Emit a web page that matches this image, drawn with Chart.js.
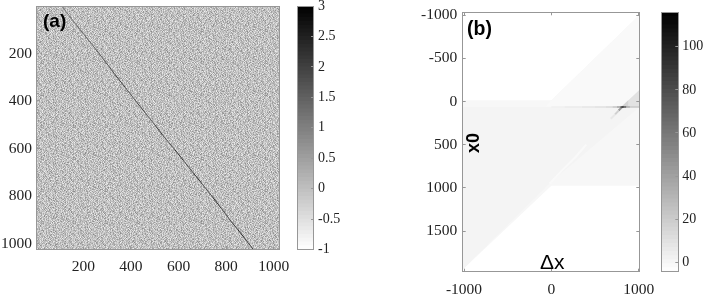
<!DOCTYPE html>
<html>
<head>
<meta charset="utf-8">
<style>
  html, body { margin: 0; padding: 0; background: #fff; }
  #wrap { position: relative; width: 706px; height: 295px; overflow: hidden; }
  canvas { position: absolute; left: 0; top: 0; }
  .lbl { position: absolute; font-family: "Liberation Sans", sans-serif; font-weight: bold; color: #000; white-space: nowrap; line-height: 1; }
</style>
<script src="https://cdn.jsdelivr.net/npm/chart.js@4"></script>
</head>
<body>
<div id="wrap">
  <canvas id="a" width="706" height="295"></canvas>
  <canvas id="aBar" width="706" height="295"></canvas>
  <canvas id="b" width="706" height="295"></canvas>
  <canvas id="bBar" width="706" height="295"></canvas>
  <div class="lbl" style="left:43px;top:11px;font-size:19px">(a)</div>
  <div class="lbl" style="left:467px;top:19px;font-size:19.5px">(b)</div>
  <div class="lbl" style="left:464px;top:133px;font-size:18px;transform-origin:0 0;transform:rotate(-90deg) translate(-20px,0)">x0</div>
  <div class="lbl" style="left:540px;top:251px;font-size:21px;font-weight:normal">Δx</div>
</div>

<script>
// ---- panel (a) ----
const aXTicks = [200, 400, 600, 800, 1000];
const aYTicks = [200, 400, 600, 800, 1000];
const matrixX = [0.5, 1024.5, 1024.5, 0.5];
const matrixY = [0.5, 0.5, 1024.5, 1024.5];
// dark ridge
const ridgeX = [108, 170, 250, 290, 330, 375, 420, 460, 500, 540, 583, 620, 660, 700, 740, 780, 820, 850, 880, 914];
const ridgeY = [0, 80, 180, 232, 285, 342, 400, 450, 500, 552, 603, 650, 700, 750, 800, 852, 905, 942, 980, 1024];
const ridgeGrey = ["#777", "#666", "#585858", "#505050", "#3c3c3c", "#585858", "#404040", "#5c5c5c", "#3c3c3c", "#505050", "#2e2e2e", "#4c4c4c", "#323232", "#505050", "#2e2e2e", "#484848", "#3c3c3c", "#2a2a2a", "#404040"];

// speckle of panel (a): the single pixels can't be read one by one, so this is
// a hand typed tile (one hex digit = grey level) used as the fill of the matrix
const speckleTile = [
  "8b3e96a1d7c4f20b95e8a6c17d39b4ea",
  "c5a82fd94b7e1a6c83d5b09fe724a8c6",
  "9e17c6b38af25d94c7e1a86b3fd5920c",
  "4da9e2708cb6f31e95a7d4c82be6190f",
  "b7136fc8d2a95e07b4c9f6318ad2e75b",
  "a2e8d45b1c97f6a3e08d7b25c4f9163d",
  "6fc094a7e3b1d852c6a9f7e403bd8c12",
  "d38b7e2f96c5a41d8e07b3f9a62c5e94",
  "19f5c6ad04e8b72a9d3c6e1b84f7a05d",
  "e7a3b829d6f1c054ba8e297d3c6f914b",
  "5c91e4f7a3086bdc2f95a1e7d48c3b60",
  "b06d82c5e9a7f13d4c8b06e9a25f7d1c",
  "8ae3f17b4d92c6a05e7d3f8c1b94a6e2",
  "2c75a9d06bf38e14c9a7d25e8f06b3c9",
  "f49e6c1a85d7b023e6c4f9a17d8b25ea",
  "a7d3085eb2c96f4a1d87e3b5096cf2d4",
  "3be1c794fa06d8259ebc714ad6f3802e",
  "d6082ea5c3b97f14a6ed30f8b9c5271a",
  "91fc4b7d6e25a83c07f9d1b6e4a28c5f",
  "c47ae09318fdb65c2a94e7d03b8f6a19",
  "6b29d5f8a4c071ebd63f8a25c9e4107d",
  "ea81c36d09b5f72e4d9a1c68f03b7d5a",
  "07f4b9e2d7a1368cf5be2907d4a6c1e3",
  "b5c2768a1fe49d03a7c85bf16e29d48a",
  "4ed90c3b75a8e16f24d9c7083fa5be16",
  "a816f5d2b9c47e0a3fb6d1e95c0782d4",
  "7c3be604a1f8d95267ce0b4f8a13d96e",
  "d2945af78e30c1b6ed487a9f25bc6013",
  "1ea76c2d59f4b083ca96e17d3f4825bc",
  "f8053db9a6c27e41b6f8d3059ec7a142",
  "39cb8e14f07da562e1a9c46b7d0f38e5",
  "ad6274e8b5193fc0796ab2d8e5f4103c"
];
const aBarTicks = [-1, -0.5, 0, 0.5, 1, 1.5, 2, 2.5, 3];
const aBarMin = -1, aBarMax = 3;

// ---- panel (b) ----
const bXTicks = [-1000, 0, 1000];
const bYTicks = [-1000, -500, 0, 500, 1000, 1500];
const envelopeX = [-1020, 0, 1010, 1010, 0, -1020];
const envelopeY = [-15, -15, -1005, 975, 975, 1950];
const leftFanX = [-1020, 0, 720, 1010, 0, -1020];
const leftFanY = [65, 65, 65, 65, 930, 1950];
const upperBandX = [-60, 0, 1010, 1010, 700];
const upperBandY = [60, -15, -1005, 60, 60];
const wedgeX = [800, 1010, 1010];
const wedgeY = [65, -135, 65];
const wedgeCoreX = [800, 880, 880];
const wedgeCoreY = [65, -15, 65];
const whiteStreakX = [-20, 120, 280, 400];
const whiteStreakY = [950, 800, 640, 500];
const sliceX = [0, 150, 350, 500, 620, 700, 750, 790, 810, 830, 860, 900, 1010];
const sliceY = [65, 65, 65, 65, 65, 65, 65, 65, 65, 65, 65, 65, 65];
const sliceGrey = ["#f0f0f0", "#ebebeb", "#e6e6e6", "#e0e0e0", "#d8d8d8", "#c4c4c4", "#a0a0a0", "#444", "#111", "#555", "#aaa", "#c8c8c8"];
const tailX = [810, 770, 730, 680];
const tailY = [65, 105, 150, 200];
const tailGrey = ["#999", "#d0d0d0", "#e8e8e8"];
const bBarTicks = [0, 20, 40, 60, 80, 100];
const bBarMin = -4.4, bBarMax = 116;

const tickFont = { family: "'Liberation Serif', serif", size: 15.5 };
const barFont = { family: "'Liberation Serif', serif", size: 14 };
const frameGrey = "#979797";
// room kept for the tick labels of an axis (the labels are clipped to the axis box)
const roomLeftA = 36, roomLeftB = 46, roomRight = 36, roomBottom = 28;

function pts(xs, ys) {
  return xs.map(function (x, i) { return { x: x, y: ys[i] }; });
}

// filled polygon in data coordinates
function shape(xs, ys, color) {
  return { data: pts(xs, ys), showLine: true, fill: "shape", backgroundColor: color, borderWidth: 0, pointRadius: 0 };
}

// polyline with one colour per segment
function streak(xs, ys, greys, width) {
  return {
    data: pts(xs, ys), showLine: true, fill: false, borderWidth: width, pointRadius: 0,
    segment: { borderColor: function (ctx) { return greys[ctx.p0DataIndex]; } }
  };
}

function axis(position, min, max, ticks, room, font, padding, reverse) {
  const horizontal = position === "top" || position === "bottom";
  return {
    type: "linear", position: position, min: min, max: max, reverse: !!reverse,
    afterBuildTicks: function (s) { s.ticks = ticks.map(function (v) { return { value: v }; }); },
    afterFit: function (s) {
      if (horizontal) { s.height = room; } else { s.width = room; }
      // no extra margin for the end labels, the plot rectangle is fixed
      s.paddingTop = s.paddingBottom = s.paddingLeft = s.paddingRight = 0;
    },
    grid: { drawOnChartArea: false, drawTicks: true, tickLength: -3, color: frameGrey, z: 1 },
    border: { display: true, color: frameGrey, width: 1, z: 1 },
    ticks: {
      display: room > 0, autoSkip: false, maxRotation: 0, font: font, color: "#222", padding: padding,
      callback: function (v) { return String(v); }
    }
  };
}

// plot rectangle -> layout padding, less the room of the labelled axes
function box(left, top, right, bottom, rLeft, rRight, rBottom) {
  return { left: left - rLeft, top: top, right: 706 - right - rRight, bottom: 295 - bottom - rBottom };
}

function baseOptions(area, scales) {
  return {
    responsive: false, animation: false,
    layout: { padding: area },
    plugins: { legend: { display: false }, tooltip: { enabled: false } },
    scales: scales
  };
}

function colorbarDatasets(lo, hi) {
  // ascending levels, each bar from the bottom so neighbours leave no seams
  const out = [];
  for (let i = 1; i <= 64; i++) {
    const g = Math.round(255 * (1 - (i - 0.5) / 64));
    out.push({
      data: [[lo, lo + (hi - lo) * i / 64]],
      backgroundColor: "rgb(" + g + "," + g + "," + g + ")",
      barPercentage: 1, categoryPercentage: 1, grouped: false, borderWidth: 0
    });
  }
  return out;
}

function colorbar(id, area, lo, hi, ticks) {
  const xCat = axis("bottom", undefined, undefined, [], 0, barFont, 0);
  xCat.type = "category";
  xCat.labels = [""];
  delete xCat.min; delete xCat.max;
  new Chart(document.getElementById(id), {
    type: "bar",
    data: { labels: [""], datasets: colorbarDatasets(lo, hi) },
    options: baseOptions(area, {
      x: xCat,
      y: axis("right", lo, hi, ticks, roomRight, barFont, 7),
      xTop: axis("top", 0, 1, [], 0, barFont, 0),
      yLeft: axis("left", lo, hi, [], 0, barFont, 0)
    })
  });
}

// speckle pattern: the tile sheared and laid over itself with a different period, to hide the repeat
const tileW = speckleTile[0].length, tileH = speckleTile.length;
const tileCanvas = document.createElement("canvas");
tileCanvas.width = 256;
tileCanvas.height = 256;
const tileCtx = tileCanvas.getContext("2d");
for (let y = 0; y < 256; y++) {
  for (let x = 0; x < 256; x++) {
    const d1 = parseInt(speckleTile[y % tileH][(x + y * 13) % tileW], 16);
    const d2 = parseInt(speckleTile[x % 29][(y + x * 5) % 27], 16);
    const g = Math.round(0x88 + (d1 * 0.62 + d2 * 0.38) * 7);
    tileCtx.fillStyle = "rgb(" + g + "," + g + "," + g + ")";
    tileCtx.fillRect(x, y, 1, 1);
  }
}
const speckle = tileCtx.createPattern(tileCanvas, "repeat");

new Chart(document.getElementById("a"), {
  type: "scatter",
  data: {
    datasets: [
      streak(ridgeX, ridgeY, ridgeGrey, 1),
      shape(matrixX, matrixY, speckle)
    ]
  },
  options: baseOptions(box(36, 6, 279.5, 249.5, roomLeftA, 0, roomBottom), {
    x: axis("bottom", 0.5, 1024.5, aXTicks, roomBottom, tickFont, 11),
    y: axis("left", 0.5, 1024.5, aYTicks, roomLeftA, tickFont, 7, true),
    xTop: axis("top", 0.5, 1024.5, [], 0, tickFont, 0),
    yRight: axis("right", 0.5, 1024.5, [], 0, tickFont, 0, true)
  })
});

new Chart(document.getElementById("b"), {
  type: "scatter",
  data: {
    datasets: [
      streak(sliceX, sliceY, sliceGrey, 1.5),
      streak(tailX, tailY, tailGrey, 2),
      shape(wedgeCoreX, wedgeCoreY, "#d4d4d4"),
      shape(wedgeX, wedgeY, "#e2e2e2"),
      streak(whiteStreakX, whiteStreakY, ["#f9f9f9", "#f9f9f9", "#f9f9f9"], 2),
      shape(upperBandX, upperBandY, "#f9f9f9"),
      shape(leftFanX, leftFanY, "#f4f4f4"),
      shape(envelopeX, envelopeY, "#f7f7f7")
    ]
  },
  options: baseOptions(box(462.7, 12.3, 639.3, 271.7, roomLeftB, 0, roomBottom), {
    x: axis("bottom", -1015, 1007, bXTicks, roomBottom, tickFont, 12),
    y: axis("left", -1032, 1970, bYTicks, roomLeftB, tickFont, 8.5, true),
    xTop: axis("top", -1015, 1007, bXTicks, 0, tickFont, 0),
    yRight: axis("right", -1032, 1970, bYTicks, 0, tickFont, 0, true)
  })
});

colorbar("aBar", box(297.7, 6, 314, 249.5, 0, roomRight, 0), aBarMin, aBarMax, aBarTicks);
colorbar("bBar", box(661.7, 12.3, 678.3, 271.7, 0, roomRight, 0), bBarMin, bBarMax, bBarTicks);
</script>
</body>
</html>
